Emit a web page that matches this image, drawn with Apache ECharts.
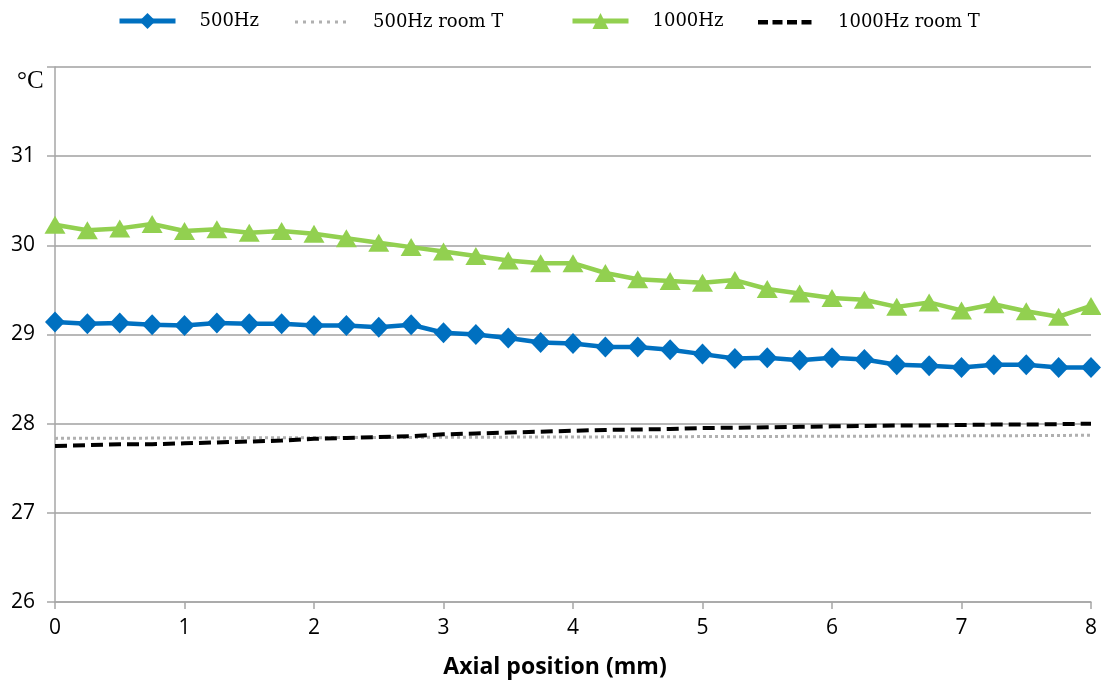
<!DOCTYPE html>
<html>
<head>
<meta charset="utf-8">
<script src="https://cdn.jsdelivr.net/npm/echarts@6/dist/echarts.min.js"></script>
<style>html,body{margin:0;padding:0;background:#fff;}#c{width:1101px;height:687px;}</style>
</head>
<body>
<div id="c"></div>
<script>
const positions = [0,0.25,0.5,0.75,1,1.25,1.5,1.75,2,2.25,2.5,2.75,3,3.25,3.5,3.75,4,4.25,4.5,4.75,5,5.25,5.5,5.75,6,6.25,6.5,6.75,7,7.25,7.5,7.75,8];
const hz500 = [29.14,29.12,29.13,29.11,29.10,29.13,29.12,29.12,29.10,29.10,29.08,29.11,29.02,29.00,28.96,28.91,28.90,28.86,28.86,28.83,28.78,28.73,28.74,28.71,28.74,28.72,28.66,28.65,28.63,28.66,28.66,28.63,28.63];
const hz500Room = [27.835,27.836,27.837,27.838,27.839,27.840,27.841,27.842,27.843,27.844,27.845,27.846,27.847,27.848,27.849,27.850,27.851,27.852,27.853,27.854,27.855,27.856,27.857,27.858,27.859,27.860,27.861,27.862,27.864,27.865,27.866,27.868,27.870];
const hz1000 = [30.23,30.17,30.19,30.24,30.16,30.18,30.14,30.16,30.13,30.08,30.03,29.98,29.93,29.88,29.83,29.80,29.80,29.69,29.62,29.60,29.58,29.61,29.51,29.46,29.41,29.39,29.31,29.36,29.27,29.34,29.26,29.20,29.32];
const hz1000Room = [27.75,27.76,27.77,27.77,27.78,27.79,27.80,27.81,27.83,27.84,27.85,27.86,27.88,27.89,27.90,27.91,27.92,27.93,27.935,27.94,27.95,27.955,27.96,27.965,27.97,27.975,27.98,27.98,27.985,27.99,27.99,27.995,28.00];
const yTicks = [26,27,28,29,30,31];
const seriesNames = ['500Hz','500Hz room T','1000Hz','1000Hz room T'];

const pair = arr => positions.map((p,i)=>[p,arr[i]]);
const bounds = 'M0,0h0.01v0.01h-0.01z M55.99,19.99h0.01v0.01h-0.01z ';
let dots = bounds; for (let k = 0; k < 7; k++) { dots += 'M' + (2 + k*8) + ',8.5h3v3h-3z '; }
let dashes = bounds; for (let k = 0; k < 4; k++) { dashes += 'M' + (k*14.5) + ',8h10v4.5h-10z '; }
const legendStyle = {fontFamily:'DejaVu Serif',fontSize:18,color:'#000',padding:[0,0,0,19]};
const legendLefts = [117,293,570,758];
const legends = seriesNames.map((n,i)=>{
  const item = {name:n};
  if (i===1) item.icon = 'path://' + dots;
  if (i===3) item.icon = 'path://' + dashes;
  return {top:12,left:legendLefts[i],padding:0,itemWidth:56,itemHeight:20,textStyle:legendStyle,
    lineStyle:{width:5},data:[item],selectedMode:false};
});

const chart = echarts.init(document.getElementById('c'), null, {renderer:'canvas'});
chart.setOption({
  animation:false,
  backgroundColor:'#fff',
  title:{text:'°C',left:12,top:64,textStyle:{fontFamily:'Liberation Serif',fontSize:25,fontWeight:'normal',color:'#000'}},
  legend:legends,
  grid:{left:55,right:10,top:67,bottom:85,containLabel:false},
  xAxis:{
    type:'value',min:0,max:8,interval:1,
    name:'Axial position (mm)',nameLocation:'middle',nameGap:54,
    nameTextStyle:{fontFamily:'Open Sans',fontWeight:'bold',fontSize:23,color:'#000',padding:[0,36,0,0]},
    axisLine:{lineStyle:{color:'#a6a6a6',width:1.5}},
    axisTick:{show:true,length:7,lineStyle:{color:'#a6a6a6',width:1.5}},
    axisLabel:{fontFamily:'Open Sans',fontSize:21,color:'#000',margin:16},
    splitLine:{show:false}
  },
  yAxis:{
    type:'value',min:26,max:32,interval:1,
    axisLine:{show:true,lineStyle:{color:'#a6a6a6',width:1.5}},
    axisTick:{show:true,length:8,lineStyle:{color:'#a6a6a6',width:1.5}},
    axisLabel:{fontFamily:'Open Sans',fontSize:21,color:'#000',margin:20,
      formatter:v=>yTicks.indexOf(v)>=0?String(v):''},
    splitLine:{show:true,lineStyle:{color:'#a0a0a0',width:1.5}}
  },
  series:[
    {name:seriesNames[0],type:'line',data:pair(hz500),symbol:'diamond',symbolSize:[20,21],
     itemStyle:{color:'#0070C0'},lineStyle:{color:'#0070C0',width:4.5},z:4},
    {name:seriesNames[1],type:'line',data:pair(hz500Room),symbol:'none',
     itemStyle:{color:'#B0B0B0'},lineStyle:{color:'#B0B0B0',width:3,type:[3,3]},z:2},
    {name:seriesNames[2],type:'line',data:pair(hz1000),symbol:'triangle',symbolSize:[21,18],
     itemStyle:{color:'#92D050'},lineStyle:{color:'#92D050',width:4.5},z:3},
    {name:seriesNames[3],type:'line',data:pair(hz1000Room),symbol:'none',
     itemStyle:{color:'#000'},lineStyle:{color:'#000',width:4,type:[12,6]},z:2}
  ]
});
</script>
</body>
</html>
